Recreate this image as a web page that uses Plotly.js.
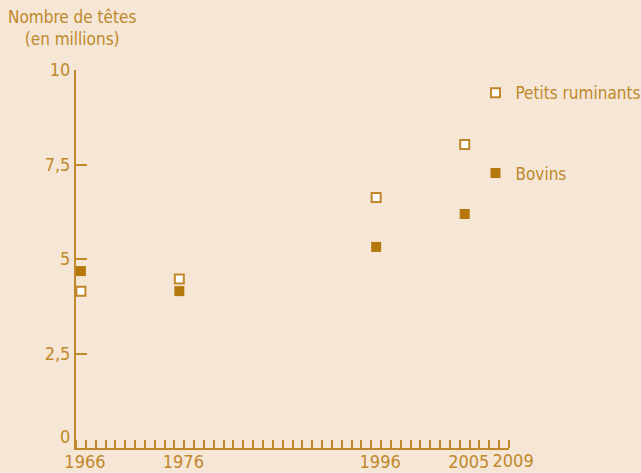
<!DOCTYPE html>
<html><head><meta charset="utf-8">
<script src="https://cdn.plot.ly/plotly-3.0.1.min.js"></script>
<style>html,body{margin:0;padding:0;background:#F5E6D6;}</style>
</head><body>
<div id="chart" style="width:641px;height:473px;"></div>
<script>
const years = [1966, 1976, 1996, 2005];
const bovins = [4.68, 4.15, 5.32, 6.19];
const petitsRuminants = [4.15, 4.47, 6.63, 8.03];
const xTickLabels = [1966, 1976, 1996, 2005, 2009];
const yTickVals = [0, 2.5, 5, 7.5, 10];

const gold = 'rgb(192,136,42)';
const fillGold = 'rgb(181,120,12)';
const font = 'DejaVu Sans Condensed, sans-serif';

const mainLabels = xTickLabels.slice(0, -1);
const lastLabel = xTickLabels.slice(-1);
const yTickText = yTickVals.map(v => String(v).replace('.', ',') + (v === 0 ? '<br>\u00a0' : ''));

const traces = [
  {x: years, y: petitsRuminants, name: 'Petits ruminants', type: 'scatter', mode: 'markers',
   legendgroup: 'a', cliponaxis: false,
   marker: {symbol: 'square', size: 9, color: '#ffffff', line: {color: gold, width: 2}}},
  {x: years, y: bovins, name: 'Bovins', type: 'scatter', mode: 'markers',
   xaxis: 'x2', yaxis: 'y',
   legendgroup: 'b', cliponaxis: false,
   marker: {symbol: 'square', size: 10, color: fillGold, line: {width: 0}}}
];

const tickFont = {family: font, size: 18, color: gold};
const layout = {
  width: 641, height: 473,
  paper_bgcolor: '#F5E6D6', plot_bgcolor: '#F5E6D6',
  margin: {l: 76, r: 132, t: 70, b: 25, autoexpand: false},
  font: {family: font, color: gold, size: 16},
  showlegend: true,
  legend: {x: 0.9226, y: 0.986, xanchor: 'left', yanchor: 'top', bgcolor: 'rgba(0,0,0,0)',
           font: {family: font, size: 17, color: gold}, tracegroupgap: 55, itemwidth: 30},
  xaxis: {range: [1965.5, 2009.5], tickmode: 'array', tickvals: mainLabels,
          ticktext: mainLabels.map(String), ticks: '', tickangle: 0, automargin: false,
          ticklabelstandoff: -4, ticklabelshift: 4,
          showgrid: false, zeroline: false,
          showline: true, linecolor: gold, linewidth: 2,
          tickfont: tickFont,
          minor: {tickmode: 'linear', tick0: 1965.5, dtick: 1, ticks: 'inside', ticklen: 8,
                  tickwidth: 1.5, tickcolor: gold, showgrid: false}},
  xaxis2: {range: [1965.5, 2009.5], overlaying: 'x', anchor: 'y', side: 'bottom',
           tickmode: 'array', tickvals: lastLabel, ticktext: lastLabel.map(String),
           ticks: '', tickangle: 0, automargin: false,
           ticklabelstandoff: 0, ticklabelshift: 9,
           showgrid: false, zeroline: false, showline: false, tickfont: tickFont},
  yaxis: {range: [0, 10], tickmode: 'array', tickvals: yTickVals, ticktext: yTickText,
          automargin: false,
          ticks: 'inside', ticklen: 11, tickwidth: 2, tickcolor: gold,
          showgrid: false, zeroline: false, showline: true, linecolor: gold, linewidth: 2,
          tickfont: tickFont},
  annotations: [{text: 'Nombre de têtes<br>(en millions)', xref: 'paper', yref: 'paper',
                 x: -0.01, y: 1.05, xanchor: 'center', yanchor: 'bottom', showarrow: false,
                 align: 'center', font: {family: font, size: 17, color: gold}}]
};
Plotly.newPlot('chart', traces, layout, {displayModeBar: false});
</script>
</body></html>
